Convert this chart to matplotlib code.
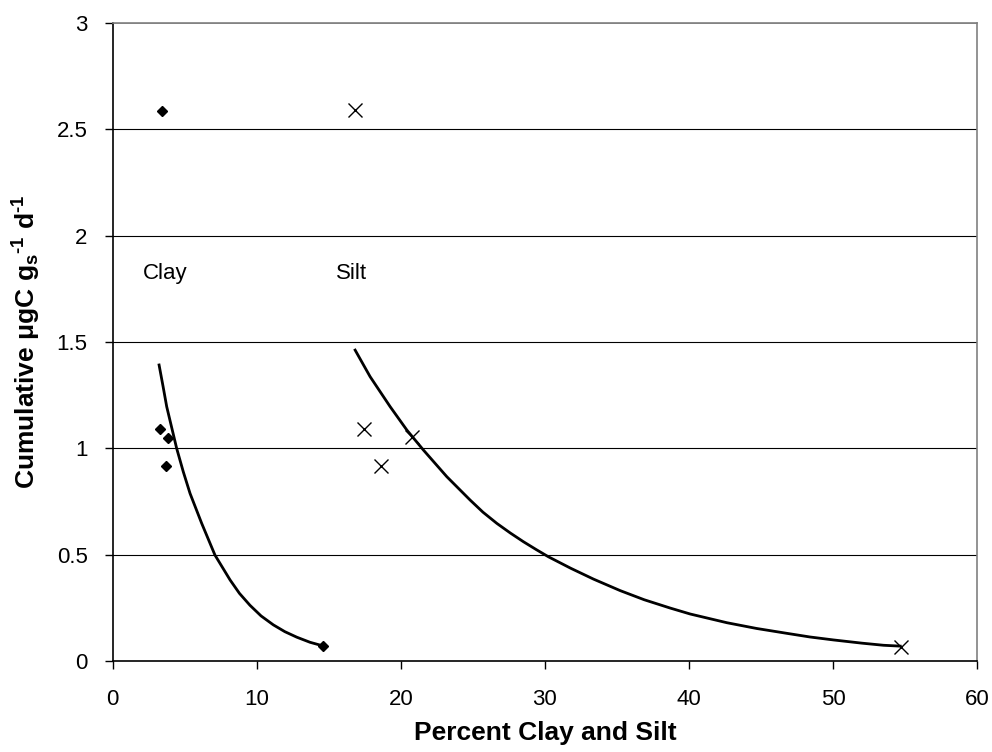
import matplotlib
matplotlib.use("Agg")
import matplotlib.pyplot as plt

plt.rcParams['font.family'] = ['Liberation Sans', 'DejaVu Sans']
plt.rcParams['mathtext.fontset'] = 'custom'
plt.rcParams['mathtext.rm'] = 'Liberation Sans:bold'
plt.rcParams['mathtext.bf'] = 'Liberation Sans:bold'
plt.rcParams['mathtext.default'] = 'bf'

# ---------- data ----------
clay_x = [3.40, 3.28, 3.82, 3.70, 14.63]
clay_y = [2.587, 1.091, 1.050, 0.917, 0.0705]

silt_x = [16.83, 17.45, 20.76, 18.61, 54.72]
silt_y = [2.59, 1.091, 1.052, 0.917, 0.067]

# trend lines
clay_fit_x = [3.22, 3.50, 3.75, 4.44, 4.90, 5.37, 6.18, 7.10, 8.15, 8.80, 9.53,
              10.30, 11.15, 11.95, 12.78, 13.70, 14.63]
clay_fit_y = [1.392, 1.290, 1.196, 1.000, 0.890, 0.788, 0.647, 0.498, 0.381, 0.318, 0.262,
              0.212, 0.170, 0.138, 0.112, 0.088, 0.0705]

silt_fit_x = [16.83, 17.87, 19.26, 20.42, 21.57, 23.19, 24.81, 25.70, 26.67, 27.60, 28.51,
              29.40, 30.25, 31.80, 33.38, 35.23, 36.90, 38.70, 40.09, 42.64, 44.70,
              46.81, 48.40, 50.04, 52.00, 53.51, 54.67]
silt_fit_y = [1.462, 1.337, 1.196, 1.086, 0.992, 0.867, 0.757, 0.700, 0.647, 0.602, 0.561,
              0.524, 0.490, 0.436, 0.385, 0.331, 0.288, 0.249, 0.221, 0.180, 0.153,
              0.130, 0.113, 0.099, 0.084, 0.074, 0.070]

x_ticks = [0, 10, 20, 30, 40, 50, 60]
y_ticks = [0, 0.5, 1, 1.5, 2, 2.5, 3]
y_tick_labels = ["0", "0.5", "1", "1.5", "2", "2.5", "3"]

# ---------- figure ----------
fig = plt.figure(figsize=(9.92, 7.52), dpi=100)
ax = fig.add_axes([0.1136, 0.121, 0.8713, 0.8484])

for yv in y_ticks[1:-1]:
    ax.axhline(yv, color="black", lw=0.8, zorder=1)
ax.axhline(3, color="#808080", lw=1.2, zorder=1)

ax.plot(clay_fit_x, clay_fit_y, color="black", lw=2.0, solid_joinstyle="round", zorder=2)
ax.plot(silt_fit_x, silt_fit_y, color="black", lw=2.0, solid_joinstyle="round", zorder=2)

ax.plot(clay_x, clay_y, linestyle="none", marker="D", ms=5, color="black", zorder=3)
ax.plot(silt_x, silt_y, linestyle="none", marker="x", ms=10, mew=1.0, color="black", zorder=3)

ax.text(2.1, 1.824, "Clay", fontsize=16, va="center", ha="left")
ax.text(15.5, 1.824, "Silt", fontsize=16, va="center", ha="left")

ax.set_xlim(0, 60)
ax.set_ylim(0, 3)
ax.set_xticks(x_ticks)
ax.set_yticks(y_ticks)
ax.set_yticklabels(y_tick_labels)
ax.tick_params(direction="out", length=6, width=1, labelsize=16, color="black")
ax.tick_params(axis="x", pad=14)
ax.tick_params(axis="y", pad=12)

for side in ["left", "bottom"]:
    ax.spines[side].set_color("black")
    ax.spines[side].set_linewidth(1.2)
for side in ["top", "right"]:
    ax.spines[side].set_color("#808080")
    ax.spines[side].set_linewidth(1.2)

ax.set_xlabel("Percent Clay and Silt", fontsize=19, fontweight="bold", labelpad=8)
ax.set_ylabel("Cumulative \u03bcgC g$_{s}$$^{\\text{-}1}$ d$^{\\text{-}1}$",
              fontsize=19, fontweight="bold", labelpad=10)

fig.savefig("out.png", dpi=100)
